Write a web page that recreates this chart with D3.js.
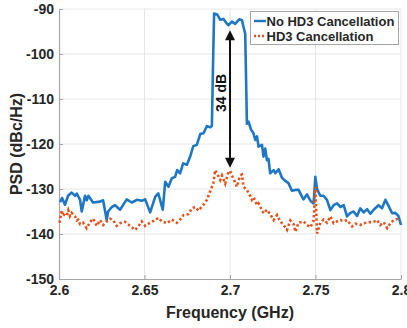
<!DOCTYPE html>
<html>
<head>
<meta charset="utf-8">
<script src="https://cdn.jsdelivr.net/npm/d3@7"></script>
<style>
  html, body { margin: 0; padding: 0; background: #fff; }
  svg { display: block; font-family: "Liberation Sans", Arial, sans-serif; }
</style>
</head>
<body>
<svg id="chart" width="407" height="328"></svg>
<script>
// ---- Data ----
const xTicks = [2.6, 2.65, 2.7, 2.75, 2.8];
const xTickLabels = ["2.6", "2.65", "2.7", "2.75", "2.8"];
const yTicks = [-150, -140, -130, -120, -110, -100, -90];
const yTickLabels = ["-150", "-140", "-130", "-120", "-110", "-100", "-90"];
const seriesNames = ["No HD3 Cancellation", "HD3 Cancellation"];

const freqNoCancel = [2.6006,2.6018,2.6035,2.6053,2.6074,2.6094,2.6104,2.6123,2.6133,2.6152,2.6162,2.6172,2.6199,2.6240,2.6258,2.6279,2.6287,2.6309,2.6328,2.6357,2.6396,2.6426,2.6455,2.6484,2.6504,2.6533,2.6563,2.6581,2.6601,2.6607,2.6621,2.6640,2.6660,2.6679,2.6691,2.6708,2.6726,2.6748,2.6767,2.6785,2.6806,2.6826,2.6845,2.6865,2.6884,2.6894,2.6902,2.6907,2.6925,2.6943,2.6962,2.6982,2.6991,2.7011,2.7030,2.7054,2.7070,2.7079,2.7089,2.7099,2.7108,2.7124,2.7136,2.7148,2.7158,2.7167,2.7187,2.7196,2.7206,2.7216,2.7225,2.7235,2.7255,2.7265,2.7284,2.7304,2.7323,2.7342,2.7362,2.7382,2.7401,2.7421,2.7430,2.7450,2.7470,2.7489,2.7499,2.7509,2.7528,2.7547,2.7567,2.7587,2.7606,2.7626,2.7646,2.7665,2.7684,2.7704,2.7723,2.7743,2.7762,2.7782,2.7802,2.7821,2.7840,2.7869,2.7889,2.7909,2.7928,2.7948,2.7967,2.7985,2.8];
const psdNoCancel = [-132.9,-132.0,-133.5,-131.5,-130.8,-131.5,-131.0,-132.4,-135.0,-131.5,-132.5,-131.5,-133.0,-132.8,-132.5,-136.9,-135.0,-134.0,-133.6,-134.6,-132.3,-133.0,-132.4,-132.6,-132.3,-135.2,-131.7,-131.0,-133.8,-134.6,-128.4,-129.5,-127.6,-127.3,-125.8,-126.5,-124.3,-124.6,-122.8,-120.5,-120.2,-117.8,-117.6,-116.0,-116.3,-116.0,-100.0,-91.0,-91.2,-92.4,-92.2,-93.3,-93.6,-92.8,-93.3,-92.3,-92.5,-94.0,-95.5,-115.5,-115.0,-116.9,-117.5,-119.1,-118.3,-120.6,-120.2,-122.8,-121.0,-123.6,-123.3,-126.5,-125.8,-126.5,-125.6,-127.5,-128.2,-128.7,-130.4,-130.2,-130.2,-131.7,-132.3,-131.2,-132.6,-133.2,-127.3,-130.0,-131.5,-131.5,-132.4,-134.7,-133.6,-133.2,-134.0,-133.6,-136.1,-135.3,-135.0,-136.0,-134.3,-135.2,-134.5,-135.5,-134.6,-133.6,-134.3,-132.4,-133.8,-135.4,-135.3,-136.0,-138.0];

const freqCancel = [2.6003,2.6006,2.6016,2.6023,2.6035,2.6045,2.6054,2.6064,2.6074,2.6094,2.6104,2.6113,2.6123,2.6141,2.6162,2.6172,2.6182,2.6201,2.6211,2.6221,2.6240,2.6259,2.6279,2.6299,2.6318,2.6338,2.6357,2.6386,2.6416,2.6445,2.6464,2.6484,2.6504,2.6533,2.6562,2.6581,2.6601,2.6631,2.6660,2.6689,2.6708,2.6728,2.6757,2.6777,2.6796,2.6816,2.6845,2.6865,2.6884,2.6903,2.6913,2.6923,2.6943,2.6953,2.6972,2.6991,2.7001,2.7011,2.7030,2.7040,2.7060,2.7070,2.7079,2.7099,2.7118,2.7128,2.7138,2.7158,2.7167,2.7177,2.7196,2.7216,2.7235,2.7255,2.7275,2.7294,2.7313,2.7333,2.7353,2.7372,2.7382,2.7401,2.7430,2.7450,2.7470,2.7489,2.7499,2.7509,2.7528,2.7547,2.7567,2.7587,2.7606,2.7626,2.7646,2.7665,2.7684,2.7714,2.7733,2.7762,2.7782,2.7811,2.7840,2.7860,2.7879,2.7899,2.7919,2.7938,2.7958,2.7977,2.7996];
const psdCancel = [-137.5,-136.9,-134.7,-136.0,-135.5,-135.8,-134.7,-136.0,-135.3,-136.1,-137.0,-136.8,-137.8,-137.5,-138.7,-138.0,-137.3,-136.6,-137.5,-138.2,-136.9,-138.0,-137.2,-136.6,-137.0,-138.2,-137.6,-137.3,-138.2,-139.1,-138.3,-137.2,-138.2,-137.5,-136.9,-136.4,-137.2,-137.6,-136.8,-137.5,-136.8,-135.8,-135.6,-134.3,-134.0,-134.8,-133.5,-132.4,-130.5,-128.7,-125.8,-126.5,-128.0,-127.0,-128.8,-126.2,-126.0,-127.0,-128.5,-129.5,-127.0,-126.8,-129.5,-130.2,-131.5,-132.4,-131.8,-133.6,-133.2,-134.0,-135.4,-134.6,-135.6,-136.9,-135.8,-137.2,-138.0,-139.1,-137.0,-137.8,-139.5,-137.5,-137.2,-138.0,-138.5,-137.0,-129.5,-139.9,-137.5,-136.8,-137.5,-136.1,-137.6,-137.2,-136.9,-137.2,-136.9,-138.3,-137.7,-138.0,-137.6,-137.4,-137.3,-136.9,-138.0,-137.4,-138.7,-137.6,-136.9,-136.7,-137.1];

const arrowFreq = [2.7];
const arrowLevels = [-94.7, -125.3];
const annotationText = "34 dB";

// ---- Layout ----
const svg = d3.select("#chart");
const margin = { left: 59, top: 9, right: 6, bottom: 49 };
const W = 407, H = 328;
const x = d3.scaleLinear().domain([2.6, 2.8]).range([margin.left, W - margin.right]);
const y = d3.scaleLinear().domain([-150, -90]).range([H - margin.bottom, margin.top]);

const blue = "#1f77c4";
const orange = "#e2531d";
const textCol = "#262626";

// grid
const grid = svg.append("g");
grid.selectAll("line.gx").data(xTicks.slice(1)).enter().append("line")
  .attr("x1", d => x(d)).attr("x2", d => x(d))
  .attr("y1", y(-150)).attr("y2", y(-90))
  .attr("stroke", "#e6e6e6").attr("stroke-width", 1);
grid.selectAll("line.gy").data(yTicks.slice(1)).enter().append("line")
  .attr("x1", x(2.6)).attr("x2", x(2.8))
  .attr("y1", d => y(d)).attr("y2", d => y(d))
  .attr("stroke", "#e6e6e6").attr("stroke-width", 1);

// axes
const xAxis = d3.axisBottom(x).tickValues(xTicks).tickFormat((d, i) => xTickLabels[i])
  .tickSizeInner(-4).tickSizeOuter(0).tickPadding(8);
const yAxis = d3.axisLeft(y).tickValues(yTicks).tickFormat((d, i) => yTickLabels[i])
  .tickSizeInner(-4).tickSizeOuter(0).tickPadding(5);

const gx = svg.append("g").attr("transform", `translate(0,${y(-150)})`).call(xAxis);
const gy = svg.append("g").attr("transform", `translate(${x(2.6)},0)`).call(yAxis);
[gx, gy].forEach(g => {
  g.select(".domain").attr("stroke", "#a6a6a6").attr("stroke-width", 1.2);
  g.selectAll(".tick line").attr("stroke", "#a6a6a6");
  g.selectAll(".tick text").attr("fill", textCol).attr("font-size", 14)
    .attr("font-weight", "bold").attr("font-family", '"Liberation Sans", Arial, sans-serif');
});
gx.selectAll(".tick text").attr("dy", "0.6em");

// lines
const line = d3.line().x(d => x(d[0])).y(d => y(d[1]));
const dataNo = freqNoCancel.map((f, i) => [f, psdNoCancel[i]]);
const dataYes = freqCancel.map((f, i) => [f, psdCancel[i]]);

svg.append("path").datum(dataNo).attr("d", line)
  .attr("fill", "none").attr("stroke", blue).attr("stroke-width", 2.6)
  .attr("stroke-linejoin", "round");
svg.append("path").datum(dataYes).attr("d", line)
  .attr("fill", "none").attr("stroke", orange).attr("stroke-width", 2.6)
  .attr("stroke-dasharray", "2.4 2.4");

// arrow annotation
const ax = x(arrowFreq[0]);
const yTop = y(arrowLevels[0]), yBot = y(arrowLevels[1]);
const headL = 10, headW = 5;
svg.append("line").attr("x1", ax).attr("x2", ax)
  .attr("y1", yTop + headL - 1).attr("y2", yBot - headL + 1)
  .attr("stroke", "#111").attr("stroke-width", 2);
svg.append("path")
  .attr("d", `M${ax},${yTop} L${ax - headW},${yTop + headL} L${ax + headW},${yTop + headL} Z`)
  .attr("fill", "#111");
svg.append("path")
  .attr("d", `M${ax},${yBot} L${ax - headW},${yBot - headL} L${ax + headW},${yBot - headL} Z`)
  .attr("fill", "#111");
svg.append("text")
  .attr("transform", `translate(${ax - 4},${(yTop + yBot) / 2 - 6}) rotate(-90)`)
  .attr("text-anchor", "middle")
  .attr("font-size", 14).attr("font-weight", "bold").attr("fill", "#111")
  .text(annotationText);

// axis labels
svg.append("text")
  .attr("x", (x(2.6) + x(2.8)) / 2).attr("y", 318)
  .attr("text-anchor", "middle").attr("font-size", 16).attr("font-weight", "bold")
  .attr("fill", textCol).text("Frequency (GHz)");
svg.append("text")
  .attr("transform", `translate(22,${(y(-150) + y(-90)) / 2}) rotate(-90)`)
  .attr("text-anchor", "middle").attr("font-size", 16).attr("font-weight", "bold")
  .attr("fill", textCol).text("PSD (dBc/Hz)");

// legend
const lg = svg.append("g");
lg.append("rect").attr("x", 250.5).attr("y", 11.5).attr("width", 148).attr("height", 33)
  .attr("fill", "#fff").attr("stroke", "#a6a6a6").attr("stroke-width", 1);
const legendItems = [
  { name: seriesNames[0], color: blue, dash: null },
  { name: seriesNames[1], color: orange, dash: "2 2" }
];
legendItems.forEach((it, i) => {
  const cy = 21 + i * 15;
  lg.append("line").attr("x1", 254).attr("x2", 266).attr("y1", cy).attr("y2", cy)
    .attr("stroke", it.color).attr("stroke-width", 2.4)
    .attr("stroke-dasharray", it.dash);
  lg.append("text").attr("x", 266.5).attr("y", cy).attr("dy", "0.36em")
    .attr("font-size", 13).attr("font-weight", "bold").attr("fill", textCol)
    .text(it.name);
});
</script>
</body>
</html>
